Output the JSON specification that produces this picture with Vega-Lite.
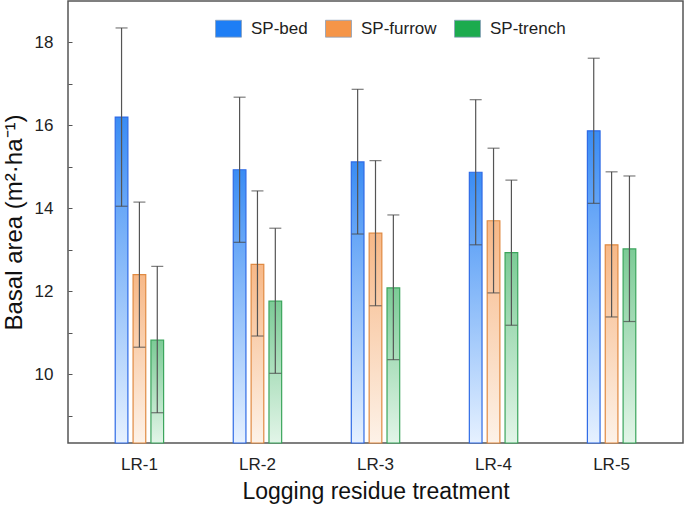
{
  "$schema": "https://vega.github.io/schema/vega-lite/v6.json",
  "width": 615,
  "height": 442,
  "autosize": {"type": "none"},
  "padding": {"left": 68, "top": 1, "right": 2, "bottom": 63},
  "background": "white",
  "config": {
    "font": "Liberation Sans",
    "view": {"stroke": "#555555", "strokeWidth": 1.5},
    "axis": {"labelFont": "Liberation Sans", "titleFont": "Liberation Sans", "labelColor": "#222222", "titleColor": "#111111", "titleFontWeight": "normal", "grid": false}
  },
  "data": {
    "values": [
      {"group": "LR-1", "series": "SP-bed", "mean": 16.2, "lo": 14.05, "hi": 18.35},
      {"group": "LR-1", "series": "SP-furrow", "mean": 12.4, "lo": 10.65, "hi": 14.15},
      {"group": "LR-1", "series": "SP-trench", "mean": 10.82, "lo": 9.07, "hi": 12.6},
      {"group": "LR-2", "series": "SP-bed", "mean": 14.93, "lo": 13.18, "hi": 16.68},
      {"group": "LR-2", "series": "SP-furrow", "mean": 12.65, "lo": 10.92, "hi": 14.42},
      {"group": "LR-2", "series": "SP-trench", "mean": 11.76, "lo": 10.02, "hi": 13.52},
      {"group": "LR-3", "series": "SP-bed", "mean": 15.12, "lo": 13.38, "hi": 16.87},
      {"group": "LR-3", "series": "SP-furrow", "mean": 13.4, "lo": 11.65, "hi": 15.15},
      {"group": "LR-3", "series": "SP-trench", "mean": 12.08, "lo": 10.35, "hi": 13.84},
      {"group": "LR-4", "series": "SP-bed", "mean": 14.87, "lo": 13.12, "hi": 16.62},
      {"group": "LR-4", "series": "SP-furrow", "mean": 13.7, "lo": 11.96, "hi": 15.45},
      {"group": "LR-4", "series": "SP-trench", "mean": 12.93, "lo": 11.18, "hi": 14.68},
      {"group": "LR-5", "series": "SP-bed", "mean": 15.87, "lo": 14.12, "hi": 17.62},
      {"group": "LR-5", "series": "SP-furrow", "mean": 13.12, "lo": 11.38, "hi": 14.88},
      {"group": "LR-5", "series": "SP-trench", "mean": 13.02, "lo": 11.27, "hi": 14.78}
    ]
  },
  "encoding": {
    "x": {
      "field": "group", "type": "nominal",
      "scale": {"paddingInner": 0.59, "paddingOuter": 0.4},
      "axis": {"title": "Logging residue treatment", "labelAngle": 0, "ticks": false, "domain": false, "labelFontSize": 17, "labelPadding": 13, "titleFontSize": 23, "titlePadding": 8}
    },
    "xOffset": {"field": "series", "type": "nominal", "scale": {"paddingInner": 0.29, "paddingOuter": 0}}
  },
  "layer": [
    {
      "mark": {"type": "bar", "strokeWidth": 1.2},
      "encoding": {
        "y": {
          "field": "mean", "type": "quantitative",
          "scale": {"domain": [8.34, 19.0], "zero": false, "nice": false},
          "axis": {
            "title": "Basal area (m²·ha⁻¹)",
            "values": [9, 10, 11, 12, 13, 14, 15, 16, 17, 18],
            "labelExpr": "datum.value % 2 == 0 ? datum.label : ''",
            "tickSize": -4, "tickColor": "#555555", "tickWidth": 1,
            "domain": false,
            "labelFontSize": 17, "labelPadding": 19,
            "titleFontSize": 24, "titlePadding": 8
          }
        },
        "y2": {"datum": 8.34},
        "fill": {
          "condition": [
            {"test": "datum.series === 'SP-bed'", "value": {"gradient": "linear", "x1": 0, "y1": 0, "x2": 0, "y2": 1, "stops": [{"offset": 0, "color": "#3a8cf4"}, {"offset": 1, "color": "#e6f1ff"}]}},
            {"test": "datum.series === 'SP-furrow'", "value": {"gradient": "linear", "x1": 0, "y1": 0, "x2": 0, "y2": 1, "stops": [{"offset": 0, "color": "#f7b887"}, {"offset": 1, "color": "#fdf2e8"}]}}
          ],
          "value": {"gradient": "linear", "x1": 0, "y1": 0, "x2": 0, "y2": 1, "stops": [{"offset": 0, "color": "#7ccb96"}, {"offset": 1, "color": "#e2f5e8"}]}
        },
        "fillOpacity": {"value": 1},
        "stroke": {
          "condition": [
            {"test": "datum.series === 'SP-bed'", "value": "#2f6be6"},
            {"test": "datum.series === 'SP-furrow'", "value": "#e08a42"}
          ],
          "value": "#3ba55c"
        }
      }
    },
    {
      "transform": [{"filter": "false"}],
      "mark": {"type": "square", "filled": true, "opacity": 1},
      "encoding": {
        "y": {"field": "mean", "type": "quantitative"},
        "color": {
          "field": "series", "type": "nominal",
          "scale": {"domain": ["SP-bed", "SP-furrow", "SP-trench"], "range": ["#1e7ef5", "#f59548", "#1cab4e"]},
          "legend": {
            "title": null, "orient": "none", "direction": "horizontal",
            "legendX": 147, "legendY": 14,
            "symbolType": "M-1,-0.65H1V0.65H-1Z", "symbolSize": 676,
            "symbolOpacity": 1,
            "symbolStrokeWidth": 0.8, "symbolStrokeColor": "#8aa0bb",
            "labelFontSize": 17, "labelColor": "#222222", "labelOffset": 9,
            "columnPadding": 15
          }
        }
      }
    },
    {
      "mark": {"type": "rule", "color": "#555555", "strokeWidth": 1.2},
      "encoding": {
        "y": {"field": "lo", "type": "quantitative"},
        "y2": {"field": "hi"}
      }
    },
    {
      "mark": {"type": "tick", "color": "#444444", "thickness": 1.2, "size": 12, "orient": "horizontal"},
      "encoding": {"y": {"field": "lo", "type": "quantitative"}}
    },
    {
      "mark": {"type": "tick", "color": "#444444", "thickness": 1.2, "size": 12, "orient": "horizontal"},
      "encoding": {"y": {"field": "hi", "type": "quantitative"}}
    }
  ]
}
